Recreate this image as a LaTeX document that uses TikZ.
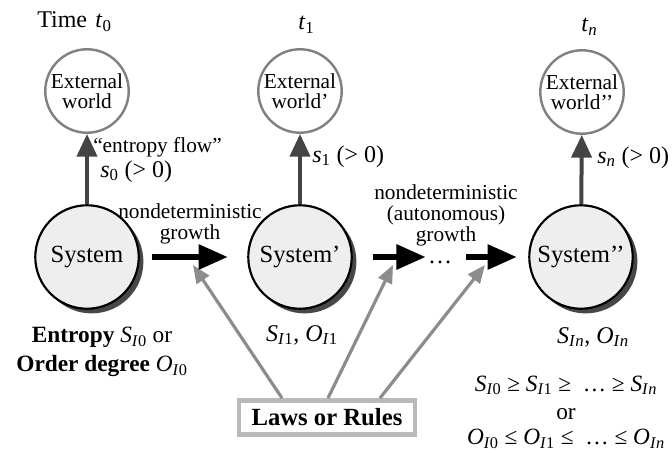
\documentclass[tikz,border=0pt]{standalone}
\usepackage{fontspec}
\setmainfont{Liberation Serif}
\usetikzlibrary{positioning,arrows.meta,calc,shadows}
\definecolor{flowgray}{RGB}{68,68,68}
\definecolor{lawgray}{RGB}{140,140,140}
\definecolor{boxgray}{RGB}{185,185,185}
\definecolor{worldgray}{RGB}{128,128,128}
\definecolor{sysfill}{RGB}{238,238,238}
\newcommand{\Sv}[1]{\textit{S}\textsubscript{\textit{I}#1}}
\newcommand{\Ov}[1]{\textit{O}\textsubscript{\textit{I}#1}}

\tikzset{
  world/.style={circle, draw=worldgray, line width=1.8pt, fill=white,
    minimum size=62.6pt, inner sep=0pt, align=center,
    font=\fontsize{16}{15}\selectfont},
  system/.style={circle, draw=black, line width=1.6pt, fill=sysfill,
    minimum size=77.6pt, inner sep=0pt, font=\fontsize{18.5}{22}\selectfont,
    drop shadow={shadow xshift=3.5pt, shadow yshift=-3.5pt, fill=black!72, opacity=1}},
  flowarrow/.style={draw=flowgray, line width=3pt, -{Triangle[length=17pt,width=15pt]}},
  growarrow/.style={draw=black, line width=4.5pt, -{Triangle[length=22pt,width=18pt]}},
  lawarrow/.style={draw=lawgray, line width=2.4pt, -{Triangle[length=13.5pt,width=11pt]}},
  lawbox/.style={draw=boxgray, line width=3.6pt, fill=white, minimum width=132pt,
    minimum height=25.5pt, inner sep=0pt, font=\fontsize{18.5}{22}\selectfont\bfseries},
  lbl/.style={inner sep=0pt, font=\fontsize{18}{21}\selectfont},
  smalllbl/.style={inner sep=0pt, align=center, font=\fontsize{16}{15.8}\selectfont}
}

\begin{document}
\begin{tikzpicture}[x=0.75pt,y=-0.75pt]
  \useasboundingbox (0,0) rectangle (672,453);

  % ── Time labels ──
  \node[lbl, anchor=base west] (time0) at (37,28) {Time\hspace{.35em}\textit{t}\textsubscript{0}};
  \node[lbl, anchor=base west] (time1) at (298,30) {\textit{t}\textsubscript{1}};
  \node[lbl, anchor=base west] (timen) at (581,32) {\textit{t}\textsubscript{\textit{n}}};

  % ── External worlds ──
  \node[world] (ext0) at (87,91) {External\\world};
  \node[world] (ext1) at (300,91) {External\\world’};
  \node[world] (ext2) at (582,92) {External\\world’’};

  % ── Systems ──
  \node[system] (sys0) at (87,257) {System};
  \node[system] (sys1) at (300,257) {System’};
  \node[system] (sys2) at (581,257) {System’’};

  % ── Entropy flow to the outside ──
  \draw[flowarrow] (sys0) -- (ext0);
  \draw[flowarrow] (sys1) -- (ext1);
  \draw[flowarrow] (sys2) -- (ext2);
  \node[smalllbl, anchor=base west] (entflow) at (93,152) {“entropy flow”};
  \node[lbl, anchor=base west] (flow0) at (100,177) {\textit{s}\textsubscript{0} (> 0)};
  \node[lbl, anchor=base west] (flow1) at (312,162) {\textit{s}\textsubscript{1} (> 0)};
  \node[lbl, anchor=base west] (flown) at (597,163) {\textit{s}\textsubscript{\textit{n}} (> 0)};

  % ── Growth labels ──
  \node[smalllbl] (grow0) at (190,224) {nondeterministic\\growth};
  \node[smalllbl] (grow1) at (446,215) {nondeterministic\\(autonomous)\\growth};

  % ── Laws or Rules ──
  \node[lawbox] (laws) at (327,417.5) {Laws or Rules};
  \coordinate (tipA) at (193,265);
  \coordinate (tipB) at (393,265);
  \coordinate (tipC) at (485,265);
  \draw[lawarrow] ($(laws.north)+(-45,0)$) -- (tipA);
  \draw[lawarrow] ($(laws.north)+(1,0)$) -- (tipB);
  \draw[lawarrow] ($(laws.north)+(53,0)$) -- (tipC);

  % ── Growth arrows ──
  \node[lbl, anchor=base, text height=3pt, text depth=0pt] (dots) at (440,263) {…};
  \draw[growarrow, shorten <=9pt, shorten >=14.5pt] (sys0.east) -- (sys1.west);
  \draw[growarrow, shorten <=15pt, shorten >=1.5pt] (sys1.east) -- (sys1.east -| dots.west);
  \draw[growarrow, shorten <=10pt, shorten >=8.5pt] (dots.east |- sys2.west) -- (sys2.west);

  % ── Entropy / order values ──
  \node[lbl, align=center, font=\fontsize{17.5}{21.75}\selectfont] (val0) at (102,352)
    {\textbf{Entropy} \Sv{0} or\\\textbf{Order degree} \Ov{0}};
  \node[lbl] (val1) at (302,335) {\Sv{1}, \Ov{1}};
  \node[lbl] (valn) at (593,337) {\Sv{\textit{n}}, \Ov{\textit{n}}};
  \node[lbl, align=center, font=\fontsize{17.5}{18.5}\selectfont] (ineq) at (566,412)
    {\Sv{0} ≥ \Sv{1} ≥ \ … ≥ \Sv{\textit{n}}\\[3pt]or\\\Ov{0} ≤ \Ov{1} ≤ \ … ≤ \Ov{\textit{n}}};
\end{tikzpicture}
\end{document}
